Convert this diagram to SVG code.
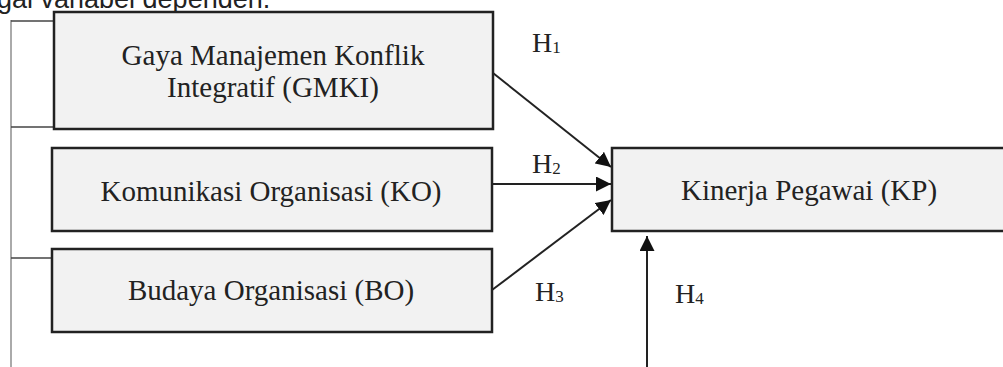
<svg xmlns="http://www.w3.org/2000/svg" width="1003" height="367" viewBox="0 0 1003 367">
<style>
.box{fill:#f2f2f2;stroke:#222;stroke-width:2.5}
.t{font-family:'Liberation Serif','DejaVu Serif',serif;font-size:29px;fill:#222;text-anchor:middle}
.h{font-family:'Liberation Serif','DejaVu Serif',serif;font-size:28px;fill:#222}
.sub{font-size:17px}
.con{stroke:#222;stroke-width:2;fill:none}
.br{stroke:#444;stroke-width:1.5;fill:none}
.vr{stroke:#aaa;stroke-width:2;fill:none}
</style>
<defs>
<marker id="ah" viewBox="0 0 10 10" refX="10" refY="5" markerWidth="7.5" markerHeight="7.5" markerUnits="strokeWidth" orient="auto">
<path d="M0,0 L10,5 L0,10 Z" fill="#111"/>
</marker>
</defs>
<rect width="1003" height="367" fill="#fff"/>
<text x="-3" y="8" font-family="'Liberation Sans', Arial, sans-serif" font-size="27" fill="#222">gai variabel dependen.</text>
<g id="bracket">
<line class="vr" x1="11" y1="20" x2="11" y2="367"/>
<line class="br" x1="11" y1="21" x2="54" y2="21"/>
<line class="br" x1="11" y1="127" x2="54" y2="127"/>
<line class="br" x1="11" y1="258" x2="52" y2="258"/>
</g>
<g id="GMKI">
<rect class="box" x="54" y="12" width="439" height="117"/>
<text class="t" x="273" y="65" font-family="Liberation Serif, serif">Gaya Manajemen Konflik</text>
<text class="t" x="273" y="97" font-family="Liberation Serif, serif">Integratif (GMKI)</text>
</g>
<g id="KO">
<rect class="box" x="52" y="148" width="440" height="83"/>
<text class="t" x="271" y="201" font-family="Liberation Serif, serif">Komunikasi Organisasi (KO)</text>
</g>
<g id="BO">
<rect class="box" x="52" y="249" width="440" height="83"/>
<text class="t" x="271" y="300" font-family="Liberation Serif, serif">Budaya Organisasi (BO)</text>
</g>
<g id="KP">
<rect class="box" x="612" y="148" width="400" height="83"/>
<text class="t" x="809" y="200" font-family="Liberation Serif, serif">Kinerja Pegawai (KP)</text>
</g>
<g id="connectors">
<line class="con" x1="493" y1="73" x2="611" y2="167" marker-end="url(#ah)"/>
<line class="con" x1="492" y1="184" x2="611" y2="184" marker-end="url(#ah)"/>
<line class="con" x1="492" y1="290" x2="611" y2="200" marker-end="url(#ah)"/>
<line class="con" x1="647" y1="367" x2="647" y2="236" marker-end="url(#ah)"/>
</g>
<g id="labels">
<text class="h" x="532" y="52">H<tspan class="sub" dy="1">1</tspan></text>
<text class="h" x="532" y="173">H<tspan class="sub" dy="1">2</tspan></text>
<text class="h" x="535" y="301">H<tspan class="sub" dy="1">3</tspan></text>
<text class="h" x="675" y="303">H<tspan class="sub" dy="1">4</tspan></text>
</g>
</svg>
